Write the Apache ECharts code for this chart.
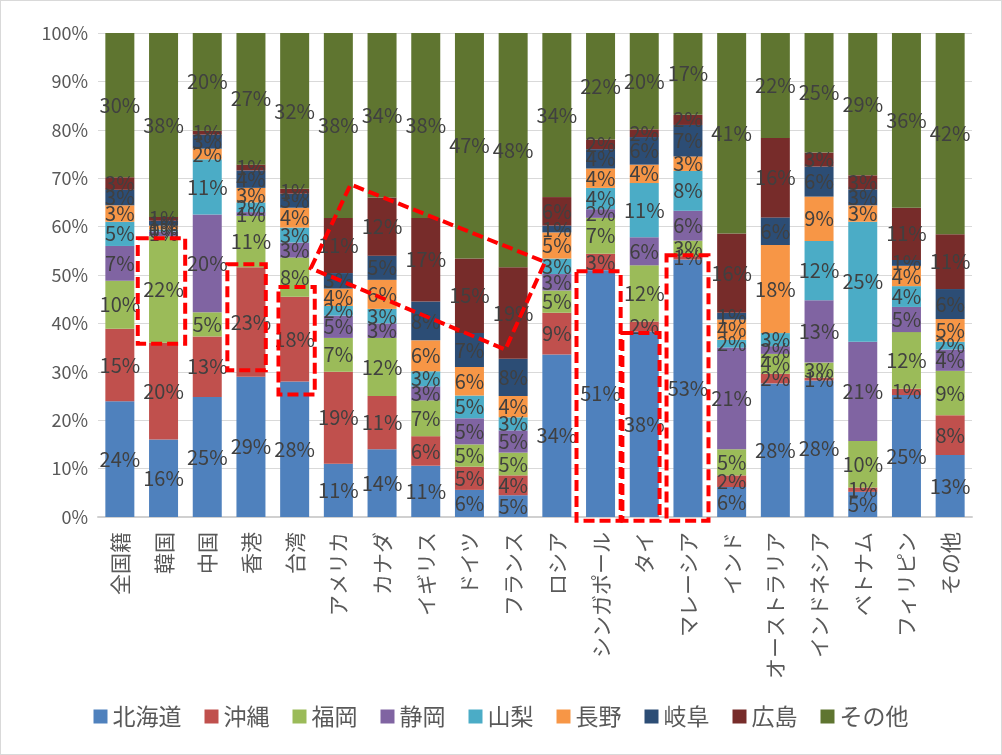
<!DOCTYPE html>
<html>
<head>
<meta charset="utf-8">
<script src="https://cdn.jsdelivr.net/npm/echarts@6/dist/echarts.min.js"></script>
<style>
  html, body { margin: 0; padding: 0; background: #fff; }
  #chart { width: 1002px; height: 755px; box-sizing: border-box; border: 1px solid #d9d9d9; }
</style>
</head>
<body>
<div id="chart"></div>
<script>
// 国籍ごとの訪問先割合（%）
const categories = ["全国籍", "韓国", "中国", "香港", "台湾", "アメリカ", "カナダ", "イギリス", "ドイツ", "フランス",
  "ロシア", "シンガポール", "タイ", "マレーシア", "インド", "オーストラリア", "インドネシア", "ベトナム", "フィリピン", "その他"];
const seriesNames = ["北海道", "沖縄", "福岡", "静岡", "山梨", "長野", "岐阜", "広島", "その他"];
const colors = ["#4f81bd", "#c0504d", "#9bbb59", "#8064a2", "#4bacc6", "#f79646", "#2c4d75", "#772c2a", "#5f7530"];

const hokkaido = [23.9, 16, 24.8, 29, 28, 11, 14, 10.6, 5.6, 4.5, 33.6, 51, 38.3, 53.2, 6.2, 27.6, 28.2, 5.2, 25.2, 12.8];
const okinawa = [15, 20, 12.5, 22.6, 17.5, 19, 11, 6.1, 4.8, 4.1, 8.6, 3.4, 2.1, 0.7, 2.4, 2, 0.6, 0.9, 1.3, 8.2];
const fukuoka = [9.9, 22, 5, 10.6, 8.1, 7, 12, 7.4, 4.6, 4.7, 4.6, 7.4, 11.6, 3.2, 5.4, 4.1, 3.1, 9.6, 11.7, 9.2];
const shizuoka = [7.2, 1, 20.2, 0.8, 3.1, 4.6, 3, 2.9, 5.4, 4.6, 3.4, 1.8, 5.8, 6.2, 21, 1.6, 12.9, 20.5, 5.2, 4.4];
const yamanashi = [5, 0.4, 11.4, 2, 3.1, 2, 3, 3.1, 4.7, 2.7, 3.2, 4.4, 11.2, 8.2, 1.6, 2.7, 12.2, 24.8, 4.3, 1.6];
const nagano = [3.4, 0.8, 2.2, 3, 4.1, 3.6, 6, 6.4, 5.9, 4.4, 5.4, 4, 3.8, 3, 4.2, 18.2, 9.2, 3.4, 4.2, 4.7];
const gifu = [3.2, 1, 2.9, 3.6, 2.9, 3.2, 5, 8, 7, 7.7, 1.4, 4, 5.7, 6.5, 1.4, 5.7, 6.2, 3.3, 1.2, 6.2];
const hiroshima = [2.6, 0.8, 0.8, 1.2, 1, 11.4, 12, 17.3, 15.4, 18.9, 5.9, 2, 1.6, 2.1, 16.4, 16.4, 2.9, 2.9, 10.8, 11.3];
const others = [29.8, 38, 20.2, 27.2, 32.2, 38.2, 34, 38.2, 46.6, 48.4, 33.9, 22, 19.9, 16.9, 41.4, 21.7, 24.7, 29.4, 36.1, 41.6];
const seriesData = [hokkaido, okinawa, fukuoka, shizuoka, yamanashi, nagano, gifu, hiroshima, others];

// 赤い点線の囲み: [左端(カテゴリ番号), 右端, 下端%, 上端%]
const highlightBoxes = [
  [0.41, 1.495, 35.8, 57.6],
  [2.46, 3.34, 30.3, 52.2],
  [3.63, 4.46, 25.3, 47.5],
  [10.45, 11.46, -0.8, 50.8],
  [11.5, 12.35, -0.8, 38],
  [12.51, 13.47, -0.8, 54.1]
];
// 広島の部分を囲む斜めの枠: [カテゴリ番号, %]
const slantBox = [[4.37, 51.4], [5.28, 68.7], [9.73, 52.7], [8.82, 34.6]];

const FONT = "'Noto Sans CJK JP', 'Noto Sans', sans-serif";
const chart = echarts.init(document.getElementById("chart"));

const dashStyle = { fill: "none", stroke: "#ff0000", lineWidth: 4, lineDash: [11, 5] };

const barSeries = seriesNames.map((name, i) => ({
  name: name,
  type: "bar",
  stack: "total",
  barWidth: 29,
  itemStyle: { color: colors[i] },
  label: {
    show: true,
    position: "inside",
    color: "#404040",
    fontSize: 20,
    fontFamily: FONT,
    formatter: (p) => Math.round(p.value) + "%",
  },
  data: seriesData[i],
}));

const option = {
  animation: false,
  backgroundColor: "#fff",
  color: colors,
  grid: { left: 97, right: 29, top: 32, bottom: 237 },
  legend: {
    data: seriesNames.map((n) => ({ name: n, icon: "rect" })),
    left: "center",
    top: 699,
    itemWidth: 14,
    itemHeight: 14,
    itemGap: 23,
    textStyle: { color: "#595959", fontSize: 23, fontFamily: FONT },
  },
  xAxis: [
    {
      type: "category",
      data: categories,
      axisTick: { show: false },
      axisLine: { lineStyle: { color: "#d0d0d0", width: 2 } },
      axisLabel: { rotate: 90, interval: 0, margin: 15, color: "#595959", fontSize: 21, fontFamily: FONT },
    },
    { type: "value", min: -0.5, max: 19.5, show: false },
  ],
  yAxis: {
    type: "value",
    min: 0,
    max: 100,
    interval: 10,
    axisLine: { show: false },
    axisTick: { show: false },
    axisLabel: { formatter: "{value}%", color: "#595959", fontSize: 18, fontFamily: FONT, margin: 10 },
    splitLine: { lineStyle: { color: "#d9d9d9", width: 1 } },
  },
  series: barSeries.concat([
    {
      type: "custom",
      xAxisIndex: 1,
      z: 10,
      silent: true,
      data: highlightBoxes,
      renderItem: (params, api) => {
        const p1 = api.coord([api.value(0), api.value(3)]);
        const p2 = api.coord([api.value(1), api.value(2)]);
        return {
          type: "rect",
          shape: { x: p1[0], y: p1[1], width: p2[0] - p1[0], height: p2[1] - p1[1] },
          style: dashStyle,
        };
      },
    },
    {
      type: "custom",
      xAxisIndex: 1,
      z: 10,
      silent: true,
      data: [0],
      renderItem: (params, api) => ({
        type: "polygon",
        shape: { points: slantBox.map((pt) => api.coord(pt)) },
        style: dashStyle,
      }),
    },
  ]),
};
chart.setOption(option);
</script>
</body>
</html>
